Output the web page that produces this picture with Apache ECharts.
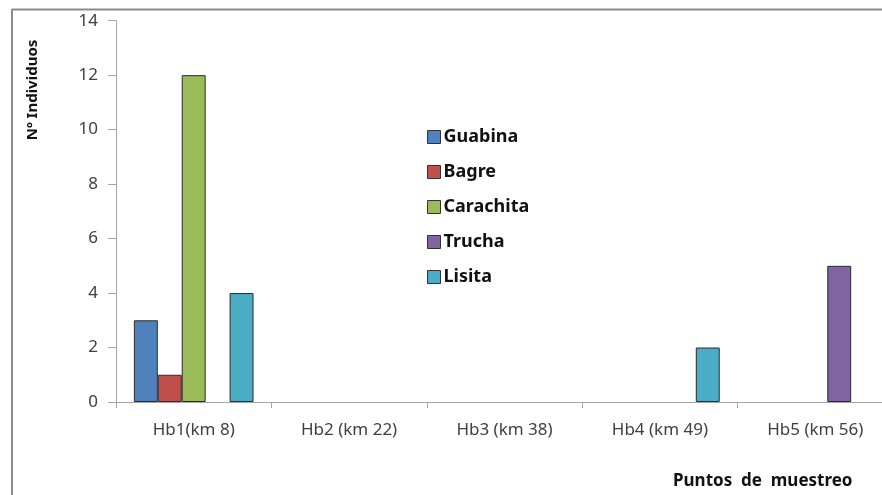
<!DOCTYPE html>
<html>
<head>
<meta charset="utf-8">
<script src="https://cdn.jsdelivr.net/npm/echarts@6/dist/echarts.min.js"></script>
<style>
html,body{margin:0;padding:0;background:#fff;overflow:hidden;}
/* el gráfico original se sale un poco por la derecha */
#chart{width:900px;height:495px;}
</style>
</head>
<body>
<div id="chart"></div>
<script>
// puntos de muestreo
var categorias = ['Hb1(km 8)', 'Hb2 (km 22)', 'Hb3 (km 38)', 'Hb4 (km 49)', 'Hb5 (km 56)'];
var guabina = [3, 0, 0, 0, 0];
var bagre = [1, 0, 0, 0, 0];
var carachita = [12, 0, 0, 0, 0];
var trucha = [0, 0, 0, 0, 5];
var lisita = [4, 0, 0, 2, 0];

var nombres = ['Guabina', 'Bagre', 'Carachita', 'Trucha', 'Lisita'];
var colores = ['#4F81BD', '#C0504D', '#9BBB59', '#8064A2', '#4BACC6'];
var datos = [guabina, bagre, carachita, trucha, lisita];

var myChart = echarts.init(document.getElementById('chart'));

var series = [];
for (var i = 0; i < nombres.length; i++) {
	series.push({
		name: nombres[i],
		type: 'bar',
		barGap: '0%',
		barCategoryGap: '23%',
		itemStyle: {color: colores[i], borderColor: '#2b2b2b', borderWidth: 1},
		// los ceros no se dibujan
		data: datos[i].map(function(v){ return v === 0 ? '-' : v; })
	});
}

var option = {
	animation: false,
	textStyle: {fontFamily: 'Noto Sans'},
	graphic: [
		{type: 'line', shape: {x1: 12, y1: 9.5, x2: 900, y2: 9.5}, style: {stroke: '#8c8c8c', lineWidth: 2}},
		{type: 'line', shape: {x1: 12, y1: 9, x2: 12, y2: 495}, style: {stroke: '#8c8c8c', lineWidth: 2}},
		{type: 'text', left: 673, top: 473, style: {text: 'Puntos  de  muestreo', font: 'bold 17px "Noto Sans"', fill: '#111'}},
		{type: 'text', x: 33, y: 90, rotation: Math.PI / 2,
			style: {text: 'Nº Individuos', font: 'bold 15px "Noto Sans"', fill: '#111', align: 'center', verticalAlign: 'middle'}}
	],
	legend: {
		orient: 'vertical',
		left: 422,
		top: 123,
		itemWidth: 13,
		itemHeight: 13,
		itemGap: 17,
		icon: 'rect',
		itemStyle: {borderColor: '#333', borderWidth: 1},
		textStyle: {fontSize: 18, fontWeight: 'bold', color: '#111', fontFamily: 'Noto Sans', padding: [0, 0, 0, -2]},
		data: nombres
	},
	grid: {left: 116, top: 20.7, width: 777, height: 381.3, containLabel: false},
	xAxis: {
		type: 'category',
		data: categorias,
		axisLine: {lineStyle: {color: '#a6a6a6'}},
		axisTick: {show: true, length: 6, lineStyle: {color: '#a6a6a6'}},
		axisLabel: {color: '#404040', fontSize: 17, margin: 20}
	},
	yAxis: {
		type: 'value',
		min: 0,
		max: 14,
		interval: 2,
		axisLine: {show: true, lineStyle: {color: '#a6a6a6'}},
		axisTick: {show: true, length: 8, lineStyle: {color: '#a6a6a6'}},
		splitLine: {show: false},
		axisLabel: {color: '#404040', fontSize: 17, margin: 18}
	},
	series: series
};
myChart.setOption(option, true);
</script>
</body>
</html>
